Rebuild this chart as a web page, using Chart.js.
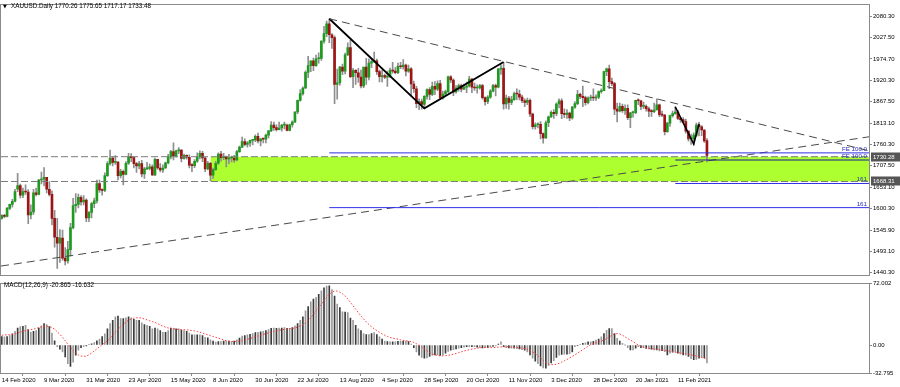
<!DOCTYPE html>
<html><head><meta charset="utf-8">
<script src="https://cdn.jsdelivr.net/npm/chart.js@4.4.1/dist/chart.umd.min.js"></script>
<style>
html,body{margin:0;padding:0;background:#fff;}
#wrap{position:relative;width:900px;height:387px;overflow:hidden;background:#fff;}
#c1{position:absolute;left:0;top:0;}
#c2{position:absolute;left:0;top:279px;}
</style></head><body>
<div id="wrap"><canvas id="c1" width="900" height="279"></canvas><canvas id="c2" width="900" height="108"></canvas></div>
<script>
// ---------- DATA ----------
const symbolName = 'XAUUSD.Daily';
const dateTickLabels = ['14 Feb 2020','9 Mar 2020','31 Mar 2020','23 Apr 2020','15 May 2020','8 Jun 2020','30 Jun 2020','22 Jul 2020','13 Aug 2020','4 Sep 2020','28 Sep 2020','20 Oct 2020','11 Nov 2020','3 Dec 2020','28 Dec 2020','20 Jan 2021','11 Feb 2021'];
const priceTicks = [2080.30,2027.50,1974.70,1920.30,1867.50,1813.10,1760.30,1707.50,1653.10,1600.30,1545.90,1493.10,1440.30];
const macdTicks = [72.002, 0, -32.795];
const macdTickLabels = ['72.002','0.00','-32.795'];

const opens = [
1576,1584,1581,1601,1611,1619,1649,1658,1634,1643,
1642,1585,1592,1640,1636,1672,1674,1679,1649,1636,
1576,1529,1514,1527,1477,1470,1498,1553,1608,1611,
1629,1617,1622,1577,1591,1613,1620,1663,1647,1646,
1683,1713,1727,1716,1717,1683,1694,1686,1714,1730,
1728,1713,1707,1713,1687,1700,1701,1705,1685,1724,
1702,1697,1702,1715,1730,1743,1733,1745,1747,1726,
1734,1729,1709,1708,1719,1730,1739,1727,1700,1714,
1684,1698,1714,1737,1728,1730,1725,1727,1727,1722,
1743,1754,1768,1761,1765,1771,1772,1781,1770,1775,
1774,1784,1795,1809,1803,1798,1802,1809,1809,1796,
1810,1817,1842,1871,1888,1902,1941,1958,1970,1958,
1975,1976,2019,2038,2062,2035,2028,1911,1915,1954,
1944,1985,2003,1930,1946,1940,1929,1907,1954,1929,
1964,1968,1970,1943,1930,1933,1929,1931,1947,1944,
1940,1956,1955,1959,1944,1950,1912,1900,1863,1868,
1861,1881,1898,1886,1906,1899,1913,1877,1887,1893,
1930,1922,1892,1902,1908,1899,1904,1907,1924,1904,
1902,1902,1908,1878,1868,1879,1894,1908,1904,1949,
1951,1862,1877,1866,1873,1888,1887,1879,1870,1866,
1871,1837,1805,1810,1811,1788,1777,1815,1830,1841,
1838,1862,1870,1838,1836,1839,1827,1854,1863,1886,
1881,1878,1865,1877,1878,1877,1879,1893,1895,1943,
1950,1918,1913,1849,1844,1856,1845,1851,1828,1840,
1840,1871,1870,1856,1856,1850,1844,1843,1847,1860,
1835,1834,1793,1814,1833,1838,1842,1826,1823,1818,
1794,1775,1775,1784,1809,1805,1797,1770.26];
const highs = [
1585,1586,1604,1612,1624,1649,1689,1662,1652,1660,
1648,1610,1649,1652,1674,1692,1703,1679,1668,1645,
1596,1576,1548,1547,1503,1519,1564,1626,1638,1637,
1633,1633,1625,1593,1616,1627,1672,1672,1650,1690,
1718,1747,1729,1733,1718,1699,1697,1718,1739,1738,
1730,1716,1719,1721,1704,1716,1712,1710,1727,1724,
1713,1710,1717,1736,1746,1765,1747,1753,1748,1737,
1735,1735,1713,1723,1740,1745,1744,1729,1719,1716,
1702,1719,1740,1744,1739,1732,1736,1732,1734,1746,
1757,1779,1775,1768,1772,1773,1785,1789,1775,1776,
1787,1796,1818,1817,1810,1817,1811,1817,1812,1812,
1820,1843,1872,1898,1905,1945,1981,1970,1977,1984,
1990,2020,2056,2069,2075,2038,2032,1949,1956,1962,
1989,2015,2021,1951,1948,1951,1947,1954,1976,1975,
1975,1992,1974,1947,1946,1937,1944,1952,1966,1953,
1964,1966,1973,1962,1959,1953,1919,1906,1875,1874,
1883,1900,1903,1917,1918,1920,1921,1894,1897,1932,
1933,1925,1908,1912,1912,1912,1917,1931,1926,1914,
1910,1911,1911,1880,1883,1898,1911,1912,1951,1960,
1966,1884,1881,1881,1892,1900,1897,1884,1875,1877,
1875,1839,1815,1815,1818,1790,1820,1832,1845,1848,
1865,1875,1875,1850,1848,1842,1856,1868,1896,1889,
1907,1882,1880,1884,1900,1885,1895,1900,1944,1952,
1959,1927,1916,1864,1864,1862,1860,1860,1841,1844,
1872,1875,1871,1867,1860,1854,1848,1864,1875,1862,
1844,1836,1816,1834,1844,1855,1846,1828,1828,1824,
1795,1787,1790,1814,1816,1808,1798,1775.65];
const lows = [
1574,1578,1580,1598,1604,1617,1643,1627,1628,1636,
1563,1575,1586,1632,1635,1662,1657,1640,1632,1560,
1504,1451,1466,1472,1460,1464,1482,1550,1591,1602,
1609,1610,1568,1568,1577,1603,1614,1641,1634,1643,
1681,1709,1707,1711,1672,1677,1660,1685,1711,1718,
1702,1691,1700,1680,1676,1698,1697,1683,1683,1699,
1692,1691,1701,1712,1725,1722,1729,1738,1717,1724,
1724,1702,1693,1703,1716,1725,1718,1693,1697,1670,
1676,1696,1711,1719,1723,1705,1713,1717,1716,1720,
1741,1753,1757,1754,1756,1760,1768,1765,1757,1765,
1765,1777,1793,1796,1794,1797,1794,1800,1795,1795,
1804,1815,1838,1869,1884,1900,1928,1943,1945,1956,
1964,1971,2014,2030,2015,2001,1863,1874,1909,1935,
1937,1983,1928,1903,1911,1916,1902,1903,1911,1922,
1953,1965,1936,1917,1917,1925,1906,1928,1939,1937,
1938,1950,1949,1932,1941,1882,1891,1853,1848,1849,
1850,1874,1873,1883,1885,1895,1873,1874,1883,1890,
1915,1883,1889,1894,1892,1898,1890,1904,1890,1896,
1889,1899,1874,1859,1863,1876,1892,1882,1902,1936,
1849,1851,1849,1860,1871,1873,1872,1865,1855,1860,
1830,1800,1799,1802,1775,1764,1776,1805,1828,1826,
1833,1852,1825,1828,1826,1820,1824,1851,1860,1875,
1855,1859,1862,1870,1870,1871,1875,1889,1895,1933,
1900,1908,1835,1817,1842,1841,1836,1823,1803,1829,
1838,1860,1848,1850,1844,1830,1831,1840,1847,1830,
1830,1785,1791,1806,1829,1836,1823,1816,1815,1789,
1769,1761,1760,1781,1782,1783,1766,1717.17];
const closes = [
1584,1581,1601,1611,1619,1643,1658,1634,1643,1642,
1585,1592,1640,1636,1672,1674,1679,1649,1636,1576,
1529,1514,1527,1477,1470,1498,1553,1608,1611,1629,
1617,1622,1577,1591,1613,1620,1663,1647,1646,1683,
1713,1727,1716,1717,1683,1694,1686,1714,1730,1728,
1713,1707,1713,1687,1700,1701,1705,1685,1724,1702,
1697,1702,1715,1730,1743,1733,1745,1747,1726,1734,
1729,1709,1708,1719,1730,1739,1727,1700,1714,1684,
1698,1714,1737,1728,1730,1725,1727,1727,1722,1743,
1754,1768,1761,1765,1771,1772,1781,1770,1775,1774,
1784,1795,1809,1803,1798,1802,1809,1809,1796,1810,
1817,1842,1871,1888,1902,1941,1958,1970,1958,1975,
1976,2019,2038,2062,2035,2028,1911,1915,1954,1944,
1985,2003,1930,1946,1940,1929,1907,1954,1929,1964,
1968,1970,1943,1930,1933,1929,1931,1947,1944,1940,
1956,1955,1959,1944,1950,1912,1900,1863,1868,1861,
1881,1898,1886,1906,1899,1913,1877,1887,1893,1930,
1922,1892,1902,1908,1899,1904,1907,1924,1904,1902,
1902,1908,1878,1868,1879,1894,1908,1904,1949,1951,
1862,1877,1866,1873,1888,1887,1879,1870,1866,1871,
1837,1805,1810,1811,1788,1777,1815,1830,1841,1838,
1862,1870,1838,1836,1839,1827,1854,1863,1886,1881,
1878,1865,1877,1878,1877,1879,1893,1895,1943,1950,
1918,1913,1849,1844,1856,1845,1851,1828,1840,1840,
1871,1870,1856,1856,1850,1844,1843,1847,1860,1835,
1834,1793,1814,1833,1838,1842,1826,1823,1818,1794,
1775,1775,1784,1809,1805,1797,1770,1733.48];

const macdMain = [
10,9.5,10,11,13,16,20,21.5,22,23,
18,15,16,17,20,22.5,25,24,21.5,14,
5,-2,-5,-8,-14,-22,-25,-20,-12,-6,
-3,-1.5,-1,0.5,1.5,3,5,7,10,13,
19,25,29,33,34,31,31,32,33,32,
30,29,29,26,24,23,22,19,20,19,
17,15,15,17,20,19.5,19,19,17.5,17,
16,14,12,12,12,12,11,9,8.5,6,
4.5,3.5,4,4,4.5,4.5,4.5,4,4.5,6,
8,10.5,11,12,12.5,13.5,14.5,15,15.5,16,
17,18,19.5,20,19.5,20,20,20.5,19.5,19.5,
20.5,22.5,25,29,33,40,45,50.5,54,56,
59.5,63.5,67,69,69.5,65,57.5,48,44,39,
38.5,38,31.5,29,23,19,17,13.5,12.3,12.3,
13.4,14.6,12.3,9.6,7,4.6,4,3.8,3.8,3.8,
4.2,4.2,4.5,4.5,4,1,-3,-8,-12,-14.6,
-15.4,-15,-13.5,-12,-11.5,-11.5,-12.3,-11.5,-9.6,-7.5,
-6,-5.5,-4.6,-3.8,-3,-2.5,-2,-2,-2,-2,
-2.5,-3,-3.5,-3,-3,-2,-1.5,-1,1,3.8,
-2,-3,-3.5,-3.8,-3.8,-4.2,-4.6,-5.5,-6,-8,
-11.5,-15.4,-19,-22,-24.5,-26.9,-27,-24,-21,-18.4,
-14.5,-12,-11,-10.8,-10.8,-10,-8,-2,-0.8,0.8,
1.9,2.5,3.8,3.8,4.2,5.8,7,9.6,13.4,17.3,
19.2,19.2,13.4,7.7,4.6,1.9,0,-3,-5.8,-5.8,
-3.8,-1.9,-3,-3,-4,-4.6,-4.8,-5.8,-5.8,-6.9,
-6.5,-7.7,-11.5,-9.6,-8.4,-8.4,-9.6,-10.8,-11.5,-11.8,
-13.4,-16.1,-17.3,-17,-15.4,-14.6,-15,-20.865];
const macdSignal = [
11.5,11.8,12,12.2,12.5,13,14,15,16,17,
17.8,18.2,18.5,19.5,20.5,21.3,22,22,21.5,20.5,
18.5,15.5,12.5,9,5,1,-3,-6.5,-9.5,-11.5,
-13,-13.4,-13,-11.5,-9.5,-7,-4.5,-2,0.5,2.5,
5,8,11.5,15,18.5,21.5,24.5,27,29,30.5,
31.5,32,32,31.5,30.5,29.5,28.5,27.5,26.5,25,
23.5,22,21,20,19.5,19,18.5,18.3,18,18,
17.8,17.5,17,16.5,16,15,14,13,12,11,
10,9,8,7,6,5,4.5,4.2,4.2,4.3,
4.6,5,5.8,6.7,7.6,8.6,9.6,10.5,11.5,12.5,
13.4,14.2,15,15.8,16.5,17.2,17.8,18.4,18.8,19.2,
19.5,20,21,22.5,24,26,28.5,32,36,40,
44,48,52,56,59.5,62,63.4,63.2,62,60,
57.6,54,50,46,42,38,34,30.5,27,24,
21.5,19,17,15,13,11.5,10,9,8,7.5,
6.8,6,5.5,5,4.6,4,3,1.5,0,-2,
-4.5,-7,-9,-10.5,-11.5,-12.3,-12.7,-12.7,-12.5,-12,
-11.5,-10.8,-10,-9,-8,-7,-6.2,-5.5,-4.8,-4.2,
-3.7,-3.3,-3,-3,-3,-3,-3,-2.8,-2.5,-2.2,
-2,-2,-2.2,-2.5,-2.8,-3,-3.3,-3.6,-4.2,-5,
-6.5,-8,-10,-12.5,-15,-18,-20.5,-22.3,-23,-23,
-22.5,-21.5,-20,-18.5,-17,-15,-13.4,-11.5,-9.5,-7.5,
-5.5,-3.5,-1.5,0.3,1.5,2.5,3.5,4.5,6,7.7,
9.5,11.5,12.8,13.4,13,11.5,9.5,7.5,5.8,4,
2,0,-1.5,-2.5,-3.5,-4,-4.3,-4.6,-4.8,-5.2,
-5.6,-6,-6.7,-7.3,-7.8,-8.4,-8.8,-9.2,-9.7,-10.2,
-10.8,-11.5,-12.2,-13,-13.8,-14.6,-15.5,-16.632];

// drawing objects (bar index, price)
const hLevels = [1730.28, 1668.31];
const zoneStartIndex = 79;
const trendUp = [[-0.3, 1457], [328.36, 1780]];
const trendDown = [[124, 2075], [328.36, 1745]];
const fe1Points = [[124, 2075], [160, 1851], [190, 1967]];
const fe2Points = [[255, 1855], [262, 1762], [264, 1812]];
const fe1Levels = [1739.8, 1603];
const fe2Levels = [1722, 1663.3];
const feLevelNames = ['FE 100.0', '161'];

// ---------- LAYOUT ----------
const xMin = -0.303, xMax = 328.36;
const FONT = '"Liberation Sans", "DejaVu Sans", sans-serif';
const frameColor = '#8a8a8a';

const pts = arr => arr.map(p => ({x: p[0], y: p[1]}));
const lineDs = (data, color, width, dash, extra) => Object.assign({
  type: 'line', data, borderColor: color, borderWidth: width, borderDash: dash || [],
  pointRadius: 0, fill: false, tension: 0, order: 0
}, extra || {});

const mainDatasets = [];
hLevels.forEach(v => mainDatasets.push(lineDs(pts([[xMin, v], [xMax, v]]), '#7c7c7c', 1, [7, 3])));
fe1Levels.forEach(v => mainDatasets.push(lineDs(pts([[fe1Points[0][0], v], [xMax, v]]), '#2f2fe6', 1)));
fe2Levels.forEach((v, k) => mainDatasets.push(lineDs(pts([[fe2Points[0][0], v], [xMax, v]]), k === 0 ? '#1c1c90' : '#2f2fe6', 1)));
mainDatasets.push(lineDs(pts(trendUp), '#4a4a4a', 1, [8, 5]));
mainDatasets.push(lineDs(pts(trendDown), '#4a4a4a', 1, [8, 5]));
mainDatasets.push(lineDs(pts(fe1Points), '#000', 1.8));
mainDatasets.push(lineDs(pts(fe2Points), '#000', 1.6));
mainDatasets.push({
  type: 'bar', data: opens.map((o, i) => ({x: i, y: [o, closes[i]]})),
  barThickness: 2, minBarLength: 1, grouped: false, borderWidth: 0, order: 1,
  backgroundColor: c => (closes[c.dataIndex] >= opens[c.dataIndex] ? '#1e9a1e' : '#9c1414')
});
mainDatasets.push({
  type: 'bar', data: highs.map((h, i) => ({x: i, y: [lows[i], h]})),
  barThickness: 1, grouped: false, borderWidth: 0, order: 2, backgroundColor: '#8e8e8e'
});
mainDatasets.push({
  type: 'line', data: pts([[zoneStartIndex, hLevels[0]], [xMax, hLevels[0]]]),
  fill: {value: hLevels[1]}, backgroundColor: '#adff2f', borderWidth: 0, pointRadius: 0, order: 3
});

const framePlugin = {
  id: 'frame',
  afterDraw(chart) {
    const {ctx, chartArea: a} = chart;
    ctx.save();
    ctx.strokeStyle = frameColor; ctx.lineWidth = 1;
    ctx.strokeRect(Math.round(a.left) - 0.5, Math.round(a.top) - 0.5, Math.round(a.right - a.left) + 1, Math.round(a.bottom - a.top) + 1);
    ctx.restore();
  }
};

const mainTextPlugin = {
  id: 'mainText',
  afterDraw(chart) {
    const {ctx} = chart; const y = chart.scales.y;
    const last = opens.length - 1;
    ctx.save();
    ctx.textBaseline = 'middle'; ctx.fillStyle = '#000';
    ctx.font = '5px "DejaVu Sans"'; ctx.fillText('\u25BC', 3, 6.5);
    ctx.font = '6.3px ' + FONT;
    ctx.fillText(symbolName + ' ' + [opens[last], highs[last], lows[last], closes[last]].map(v => v.toFixed(2)).join(' '), 11, 6.5);
    // FE level texts
    ctx.font = '6.2px ' + FONT; ctx.textAlign = 'right'; ctx.textBaseline = 'alphabetic';
    [fe1Levels, fe2Levels].forEach(levels => levels.forEach((v, k) => {
      ctx.fillStyle = '#2a2ab8';
      ctx.fillText(feLevelNames[k], 867, y.getPixelForValue(v) - 2);
    }));
    // price boxes for horizontal lines
    ctx.textAlign = 'left'; ctx.textBaseline = 'middle'; ctx.font = '6px ' + FONT;
    hLevels.forEach(v => {
      const py = Math.round(y.getPixelForValue(v));
      ctx.fillStyle = '#555'; ctx.fillRect(871, py - 4.5, 29, 9);
      ctx.fillStyle = '#fff'; ctx.fillText(v.toFixed(2), 873, py);
    });
    ctx.restore();
  }
};

const macdTextPlugin = {
  id: 'macdText',
  afterDraw(chart) {
    const {ctx} = chart; const last = macdMain.length - 1;
    ctx.save();
    ctx.fillStyle = '#000'; ctx.font = '6.3px ' + FONT; ctx.textBaseline = 'middle';
    ctx.fillText('MACD(12,26,9) ' + macdMain[last].toFixed(3) + ' ' + macdSignal[last].toFixed(3), 4, 6);
    ctx.restore();
  }
};

const yAxisCommon = {
  type: 'linear', position: 'right',
  afterFit: s => { s.width = 31; },
  grid: {drawOnChartArea: false, tickLength: 3, color: frameColor},
  border: {color: frameColor}
};

new Chart(document.getElementById('c1'), {
  type: 'bar',
  data: {datasets: mainDatasets},
  options: {
    responsive: false, animation: false, devicePixelRatio: 1,
    layout: {padding: {left: 1, top: 1, right: 0, bottom: 2}, autoPadding: false},
    plugins: {legend: {display: false}, tooltip: {enabled: false}},
    scales: {
      x: {type: 'linear', min: xMin, max: xMax, offset: false, display: false},
      y: Object.assign({}, yAxisCommon, {
        min: 1436.15, max: 2110.35,
        afterBuildTicks: s => { s.ticks = priceTicks.map(v => ({value: v})); },
        ticks: {callback: v => Number(v).toFixed(2), autoSkip: false, font: {family: FONT, size: 6}, color: '#000', padding: 1}
      })
    }
  },
  plugins: [framePlugin, mainTextPlugin]
});

new Chart(document.getElementById('c2'), {
  type: 'bar',
  data: {datasets: [
    {type: 'line', data: macdSignal.map((v, i) => ({x: i, y: v})), borderColor: '#ff3b3b', borderWidth: 1,
      borderDash: [1.5, 1.8], pointRadius: 0, fill: false, tension: 0, order: 0},
    {type: 'bar', data: macdMain.map((v, i) => ({x: i, y: v})), barThickness: 1, grouped: false, borderWidth: 0, order: 1,
      backgroundColor: c => (c.dataIndex % 2 ? '#9a9a9a' : '#3a3a3a')}
  ]},
  options: {
    responsive: false, animation: false, devicePixelRatio: 1,
    layout: {padding: {left: 1, top: 1, right: 0, bottom: 0}, autoPadding: false},
    plugins: {legend: {display: false}, tooltip: {enabled: false}},
    scales: {
      x: {
        type: 'linear', min: xMin, max: xMax, offset: false,
        afterFit: s => { s.height = 14; },
        afterBuildTicks: s => { s.ticks = dateTickLabels.map((l, k) => ({value: k * 16})); },
        ticks: {callback: v => dateTickLabels[Math.round(v / 16)], align: 'start', autoSkip: false, maxRotation: 0,
          font: {family: FONT, size: 6}, color: '#000', padding: 1},
        grid: {drawOnChartArea: false, tickLength: 3, color: frameColor},
        border: {color: frameColor}
      },
      y: Object.assign({}, yAxisCommon, {
        min: -32.795, max: 72.002,
        afterBuildTicks: s => { s.ticks = macdTicks.map(v => ({value: v})); },
        ticks: {callback: (v, i) => macdTickLabels[i], autoSkip: false, font: {family: FONT, size: 6}, color: '#000', padding: 1}
      })
    }
  },
  plugins: [framePlugin, macdTextPlugin]
});
</script>
</body></html>
